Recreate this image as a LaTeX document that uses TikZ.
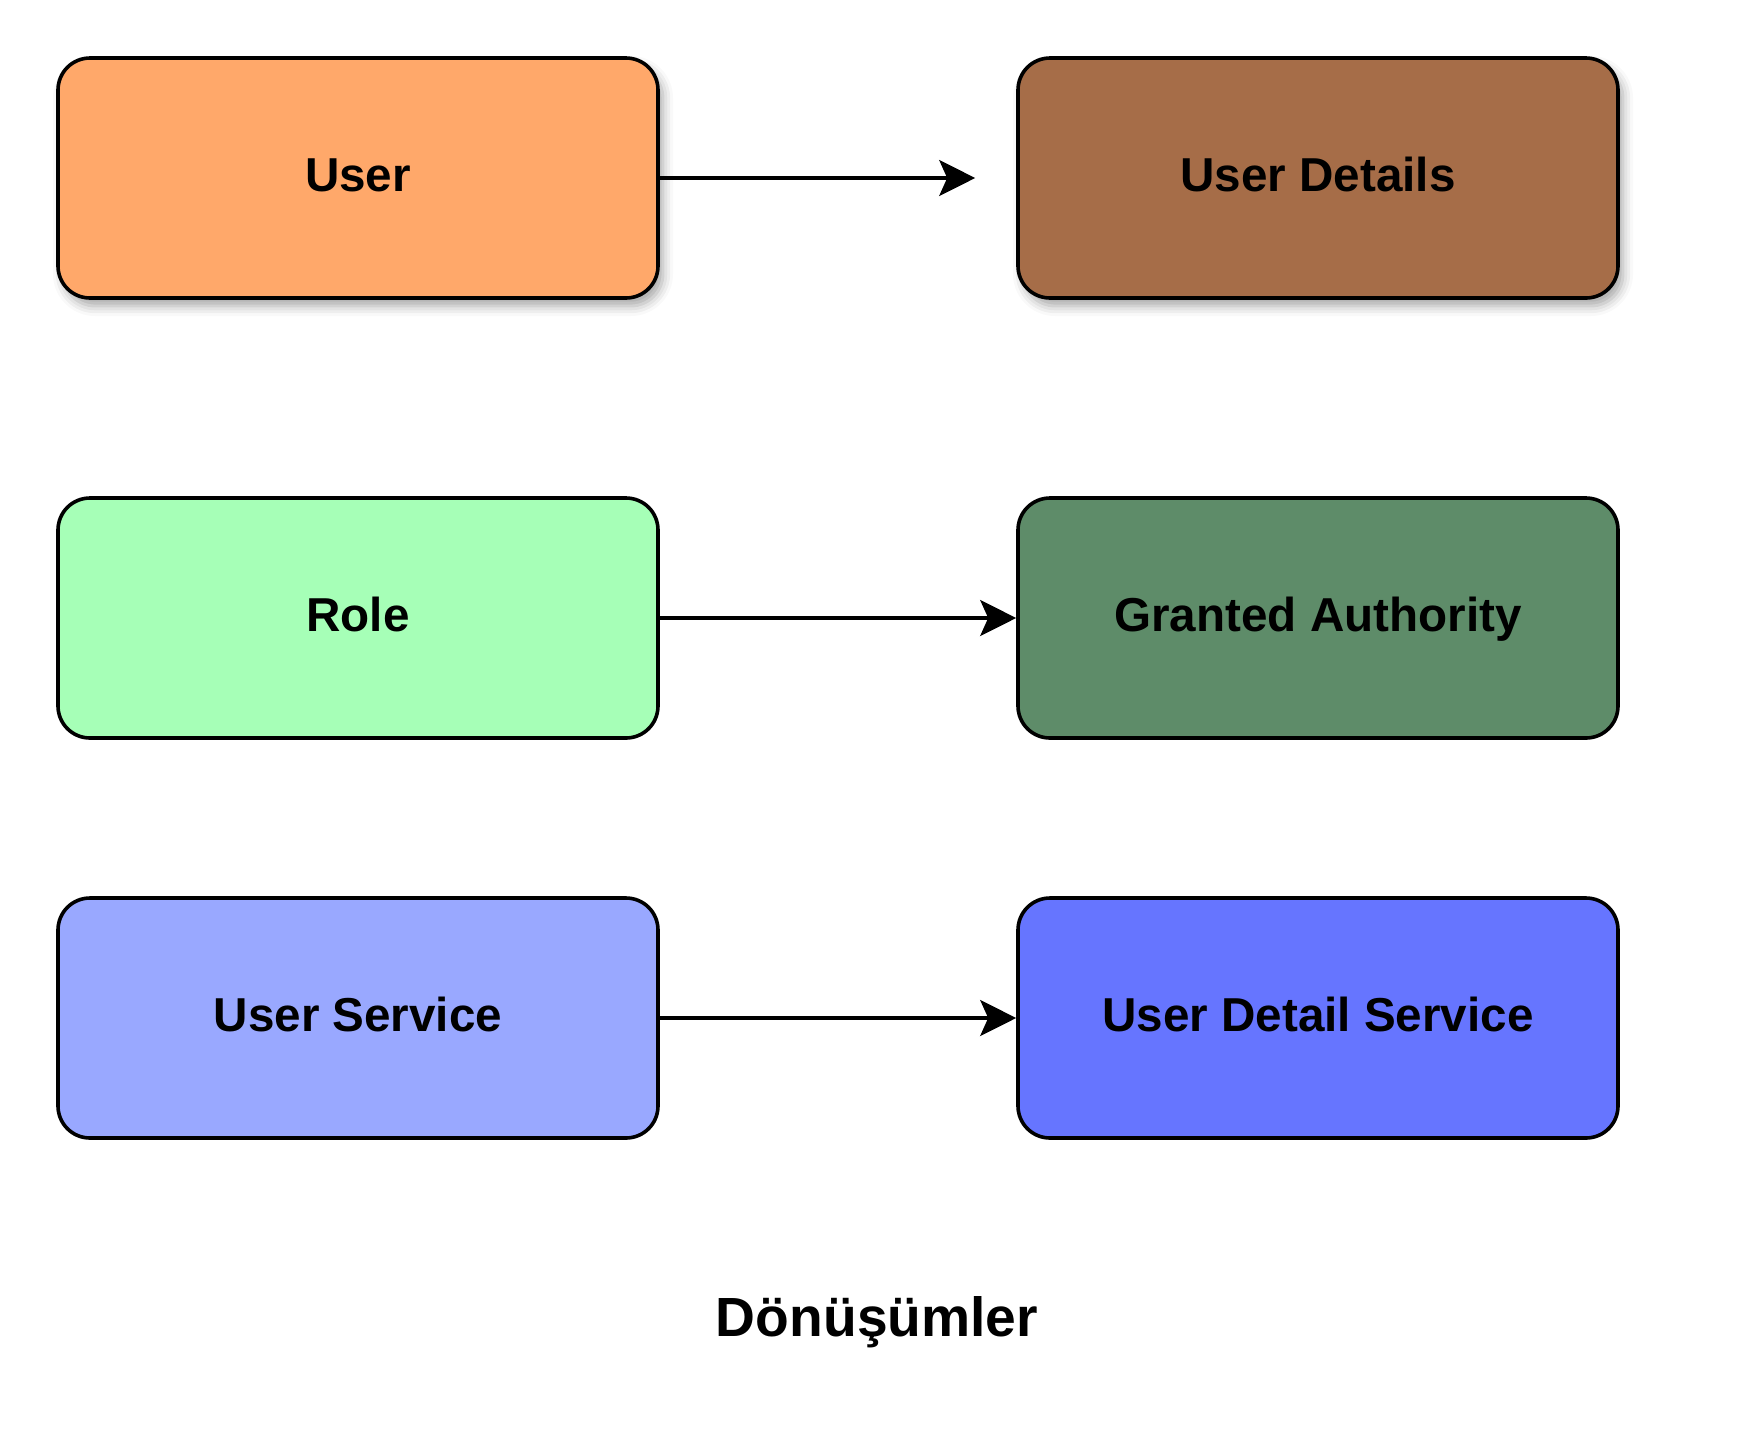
\documentclass[tikz,border=0pt]{standalone}
\usepackage{fontspec}
\setmainfont{Liberation Sans}
\usetikzlibrary{arrows.meta,shadows.blur}
\definecolor{cUser}{RGB}{255,168,106}
\definecolor{cUserDet}{RGB}{166,109,72}
\definecolor{cRole}{RGB}{166,255,183}
\definecolor{cGrant}{RGB}{94,140,105}
\definecolor{cUserSvc}{RGB}{153,168,255}
\definecolor{cUserDetSvc}{RGB}{102,117,255}
\tikzset{
  box/.style={draw=black, line width=1.8pt, rounded corners=16pt,
    minimum width=300pt, minimum height=120pt, inner sep=0pt,
    text height=17pt, text depth=3.5pt,
    font=\fontsize{23.8pt}{28pt}\selectfont\bfseries},
  shadowed/.style={blur shadow={shadow xshift=2.5pt, shadow yshift=-4pt, shadow blur radius=5pt, shadow opacity=35}},
  conn/.style={line width=1.6pt, -{Stealth[length=18pt, width=18pt, inset=4pt]}},
  title/.style={font=\fontsize{27.6pt}{32pt}\selectfont\bfseries}
}
\begin{document}
\begin{tikzpicture}[x=0.5pt, y=-0.5pt]
\useasboundingbox (0,0) rectangle (1742,1442);
\node[box, shadowed, fill=cUser] (user) at (358,178) {User};
\node[box, shadowed, fill=cUserDet] (userdet) at (1318,178) {User Details};
\node[box, fill=cRole] (role) at (358,618) {Role};
\node[box, fill=cGrant] (grant) at (1318,618) {Granted Authority};
\node[box, fill=cUserSvc] (usersvc) at (358,1018) {User Service};
\node[box, fill=cUserDetSvc] (userdetsvc) at (1318,1018) {User Detail Service};
\node[title] (ttl) at (877,1322) {Dönüşümler};
\draw[conn, shorten >=20.5pt] (user) -- (userdet);
\draw[conn] (role) -- (grant);
\draw[conn] (usersvc) -- (userdetsvc);
\end{tikzpicture}
\end{document}
